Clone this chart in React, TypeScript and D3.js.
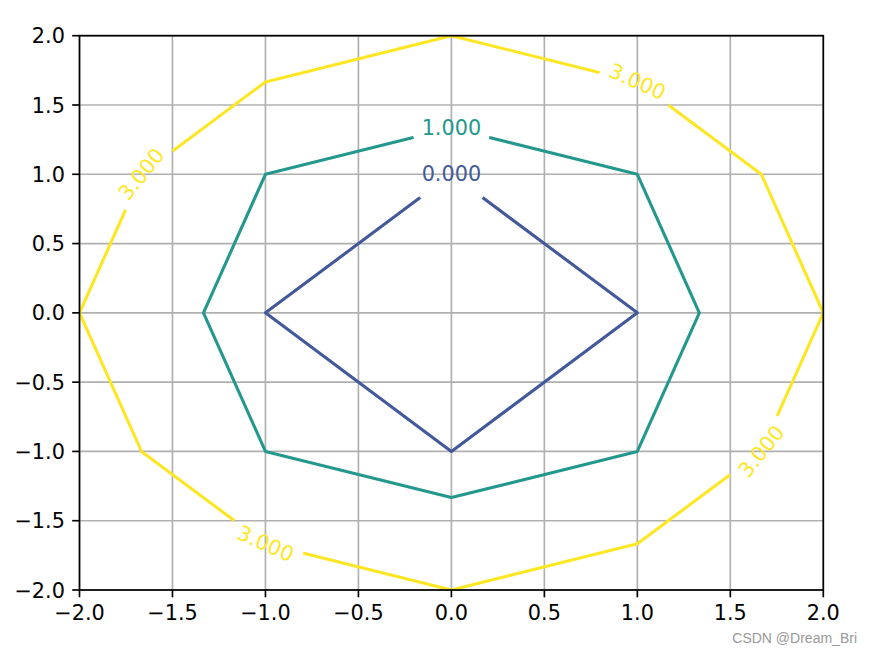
import React from 'react';
import * as d3 from 'd3';

// grid samples of z = x^2 + y^2 - 1 (rows follow gridY, columns follow gridX)
const gridX = [-2, -1, 0, 1, 2];
const gridY = [-2, -1, 0, 1, 2];
const zValues = [
  [7, 4, 3, 4, 7],
  [4, 1, 0, 1, 4],
  [3, 0, -1, 0, 3],
  [4, 1, 0, 1, 4],
  [7, 4, 3, 4, 7],
];
const levels = [0, 1, 3];
const levelColors = ['#43599a', '#24988c', '#fde725'];

// inline label anchors (data coords) and the level they belong to
const labelX = [0, 0, 1, -1.667, 1.667, -1];
const labelY = [1, 1.333, 1.667, 1, -1, -1.667];
const labelLevel = [0, 1, 3, 3, 3, 3];

const xTicks = [-2, -1.5, -1, -0.5, 0, 0.5, 1, 1.5, 2];
const yTicks = [-2, -1.5, -1, -0.5, 0, 0.5, 1, 1.5, 2];

const W = 871, H = 654;
const L = 79.5, R = 823.3, T = 35.7, B = 590;
const FS = 20.8;
const FONT = 'DejaVu Sans, sans-serif';

function contourPoints(level: number): [number, number][] {
  const pts: [number, number][] = [];
  const seen = new Set<string>();
  const add = (x: number, y: number) => {
    const k = x.toFixed(4) + ',' + y.toFixed(4);
    if (!seen.has(k)) { seen.add(k); pts.push([x, y]); }
  };
  const edge = (x0: number, y0: number, z0: number, x1: number, y1: number, z1: number) => {
    if ((z0 - level) * (z1 - level) > 0) return;
    if (z0 === z1) return;
    const t = (level - z0) / (z1 - z0);
    add(x0 + t * (x1 - x0), y0 + t * (y1 - y0));
  };
  for (let j = 0; j < gridY.length; j++) {
    for (let i = 0; i < gridX.length; i++) {
      const z = zValues[j][i];
      if (i + 1 < gridX.length) edge(gridX[i], gridY[j], z, gridX[i + 1], gridY[j], zValues[j][i + 1]);
      if (j + 1 < gridY.length) edge(gridX[i], gridY[j], z, gridX[i], gridY[j + 1], zValues[j + 1][i]);
    }
  }
  pts.sort((a, b) => Math.atan2(a[1], a[0]) - Math.atan2(b[1], b[0]));
  return pts;
}

export default function App() {
  const x = d3.scaleLinear().domain([-2, 2]).range([L, R]);
  const y = d3.scaleLinear().domain([-2, 2]).range([B, T]);
  const fmt = d3.format('.1f');
  const lfmt = d3.format('.3f');
  const line = d3.line<[number, number]>().x(d => x(d[0])).y(d => y(d[1])).curve(d3.curveLinearClosed);

  const contours = levels.map(lv => contourPoints(lv));

  const labels = labelX.map((lx, i) => {
    const li = levels.indexOf(labelLevel[i]);
    const pts = contours[li];
    let best = 0, bd = Infinity;
    pts.forEach((p, k) => {
      const d = (p[0] - lx) ** 2 + (p[1] - labelY[i]) ** 2;
      if (d < bd) { bd = d; best = k; }
    });
    const n = pts.length;
    const prev = pts[(best - 1 + n) % n], next = pts[(best + 1) % n];
    let ang = Math.atan2(y(next[1]) - y(prev[1]), x(next[0]) - x(prev[0])) * 180 / Math.PI;
    if (ang > 90) ang -= 180;
    if (ang < -90) ang += 180;
    return { li, cx: x(lx), cy: y(labelY[i]), ang, text: lfmt(labelLevel[i]) };
  });

  return (
    <div style={{ position: 'fixed', left: 0, top: 0 }}>
      <svg width={W} height={H} style={{ display: 'block', background: '#fff' }}>
        <defs>
          <clipPath id="plot">
            <rect x={L} y={T} width={R - L} height={B - T} />
          </clipPath>
          {levels.map((lv, li) => (
            <mask id={`gap${li}`} key={li} maskUnits="userSpaceOnUse" x={0} y={0} width={W} height={H}>
              <rect x={0} y={0} width={W} height={H} fill="#fff" />
              {labels.filter(l => l.li === li).map((l, k) => (
                <circle key={k} cx={l.cx} cy={l.cy} r={39} fill="#000" />
              ))}
            </mask>
          ))}
        </defs>
        {/* grid */}
        <g stroke="#b0b0b0" strokeWidth={1.67}>
          {xTicks.map(t => <line key={'gx' + t} x1={x(t)} x2={x(t)} y1={T} y2={B} />)}
          {yTicks.map(t => <line key={'gy' + t} x1={L} x2={R} y1={y(t)} y2={y(t)} />)}
        </g>
        {/* contours */}
        <g clipPath="url(#plot)">
          {contours.map((pts, li) => (
            <g key={li} mask={`url(#gap${li})`}>
              <path d={line(pts) || ''} fill="none" stroke={levelColors[li]} strokeWidth={3.1} strokeLinejoin="round" />
            </g>
          ))}
        </g>
        {/* labels */}
        {labels.map((l, k) => (
          <text key={k} x={l.cx} y={l.cy} transform={`rotate(${l.ang},${l.cx},${l.cy})`}
            textAnchor="middle" dominantBaseline="central" fill={levelColors[l.li]}
            fontFamily={FONT} fontSize={FS}>{l.text}</text>
        ))}
        {/* spines */}
        <rect x={L} y={T} width={R - L} height={B - T} fill="none" stroke="#000" strokeWidth={1.67} />
        {/* ticks */}
        <g stroke="#000" strokeWidth={1.67}>
          {xTicks.map(t => <line key={'tx' + t} x1={x(t)} x2={x(t)} y1={B} y2={B + 7.3} />)}
          {yTicks.map(t => <line key={'ty' + t} x1={L - 7.3} x2={L} y1={y(t)} y2={y(t)} />)}
        </g>
        <g fontFamily={FONT} fontSize={FS} fill="#000">
          {xTicks.map(t => (
            <text key={'lx' + t} x={x(t)} y={B + 14.6 + 15.2} textAnchor="middle">{fmt(t)}</text>
          ))}
          {yTicks.map(t => (
            <text key={'ly' + t} x={L - 14.6} y={y(t) + 7.6} textAnchor="end">{fmt(t)}</text>
          ))}
        </g>
        <text x={857} y={643} textAnchor="end" fontFamily="Liberation Sans, Arial, sans-serif" fontSize={14} fill="#999">CSDN @Dream_Bri</text>
      </svg>
    </div>
  );
}
